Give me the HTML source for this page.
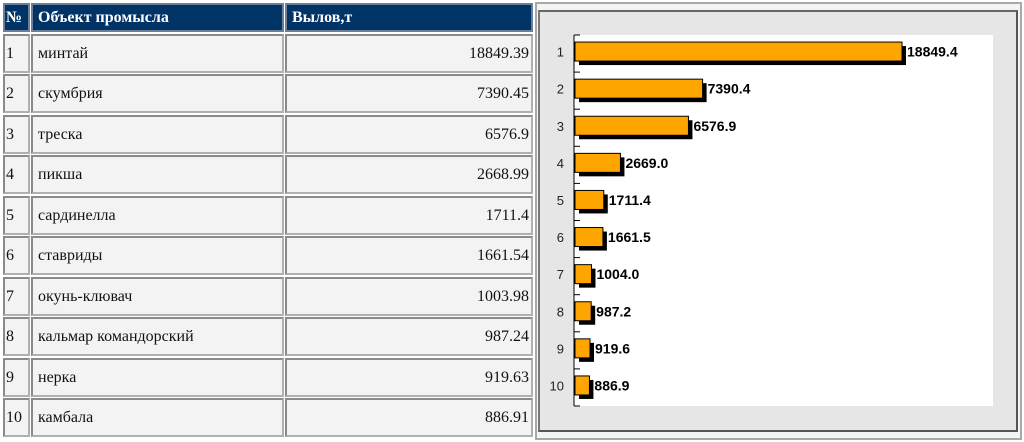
<!DOCTYPE html>
<html><head><meta charset="utf-8">
<style>
body{margin:0;width:1024px;height:442px;background:#fff;position:relative;overflow:hidden;font-family:"Liberation Serif","Noto Serif CJK SC",serif;}
.c{position:absolute;box-sizing:border-box;border:2px solid #b0b0b0;border-top-color:#8a8a8a;border-left-color:#8a8a8a;background:#f3f3f3;font-size:16px;color:#111;line-height:1;display:flex;align-items:center;}
.h{background:#003366;color:#fff;font-weight:bold;border-color:#6b7f99;}
.r{justify-content:flex-end;padding-right:2px;}
.n{padding-left:1px;}
.t{padding-left:5px;}
</style></head><body>
<div id="tbl"></div>
<div style="position:absolute;left:535px;top:2px;width:487px;height:438px;box-sizing:border-box;border:2px solid #a8a8a8;background:#f4f4f4;"></div>
<div style="position:absolute;left:538px;top:10px;width:480px;height:422px;box-sizing:border-box;border:2px solid #555;border-top-color:#666;border-left-color:#777;background:#e6e6e6;"></div>
<svg id="chart" width="1024" height="442" style="position:absolute;left:0;top:0" font-family="Liberation Sans, sans-serif"></svg>
<script>
const categories=["1","2","3","4","5","6","7","8","9","10"];
const names=["минтай","скумбрия","треска","пикша","сардинелла","ставриды","окунь-клювач","кальмар командорский","нерка","камбала"];
const tableValues=["18849.39","7390.45","6576.9","2668.99","1711.4","1661.54","1003.98","987.24","919.63","886.91"];
const values=[18849.4,7390.4,6576.9,2669.0,1711.4,1661.5,1004.0,987.2,919.6,886.9];
const labels=["18849.4","7390.4","6576.9","2669.0","1711.4","1661.5","1004.0","987.2","919.6","886.9"];

// table
const tbl=document.getElementById('tbl');
function cell(x,y,w,h,cls,txt,name){const d=document.createElement('div');d.className='c '+cls;d.style.left=x+'px';d.style.top=y+'px';d.style.width=w+'px';d.style.height=h+'px';d.textContent=txt;


tbl.appendChild(d);}
cell(3,3,27,29,'h n','№','header-number');
cell(31,3,253,29,'h t','Объект промысла','header-object');
cell(285,3,248,29,'h t','Вылов,т','header-catch');
for(let i=0;i<10;i++){const y=Math.round(34+i*40.45);
cell(3,y,27,39,'n',categories[i],'row-number');
cell(31,y,253,39,'t',names[i],'row-object');
cell(285,y,248,39,'r',tableValues[i],'row-catch');}

// chart
const svg=document.getElementById('chart');const NS='http://www.w3.org/2000/svg';
function el(t,a,name){const e=document.createElementNS(NS,t);for(const k in a)e.setAttribute(k,a[k]);


svg.appendChild(e);return e;}
const px0=574,py0=35,py1=406,pw=419;
const maxV=18849.4,barMax=328;
const xs=v=>px0+v/maxV*barMax;
const band=(py1-py0)/categories.length;
const yc=i=>py0+band*(i+0.5)-2;
el('rect',{x:px0,y:py0,width:pw,height:py1-py0,fill:'#fff'},'plot-area');
el('line',{x1:px0,y1:py0,x2:px0,y2:py1,stroke:'#000','stroke-width':1},'y-axis');
for(let i=0;i<=categories.length;i++){const y=py0+band*i;el('line',{x1:px0,y1:y,x2:px0+6,y2:y,stroke:'#000'},'y-tick');}
categories.forEach((c,i)=>{
 const y=yc(i),h=19,x2=xs(values[i]);
 el('rect',{x:px0+1+4,y:y-h/2+4,width:x2-px0-1,height:h,fill:'#000'},'bar-shadow');
 el('rect',{x:px0+1,y:y-h/2,width:x2-px0-1,height:h,fill:'#ffa500',stroke:'#000','stroke-width':1},'bar-'+c);
 const t=el('text',{x:x2+5,y:y+5,'font-size':14,'font-weight':'bold',fill:'#000'},'value-label');t.textContent=labels[i];
 const l=el('text',{x:px0-10,y:y+5,'font-size':13,'text-anchor':'end',fill:'#222'},'category-label');l.textContent=c;
});
</script>
</body></html>
